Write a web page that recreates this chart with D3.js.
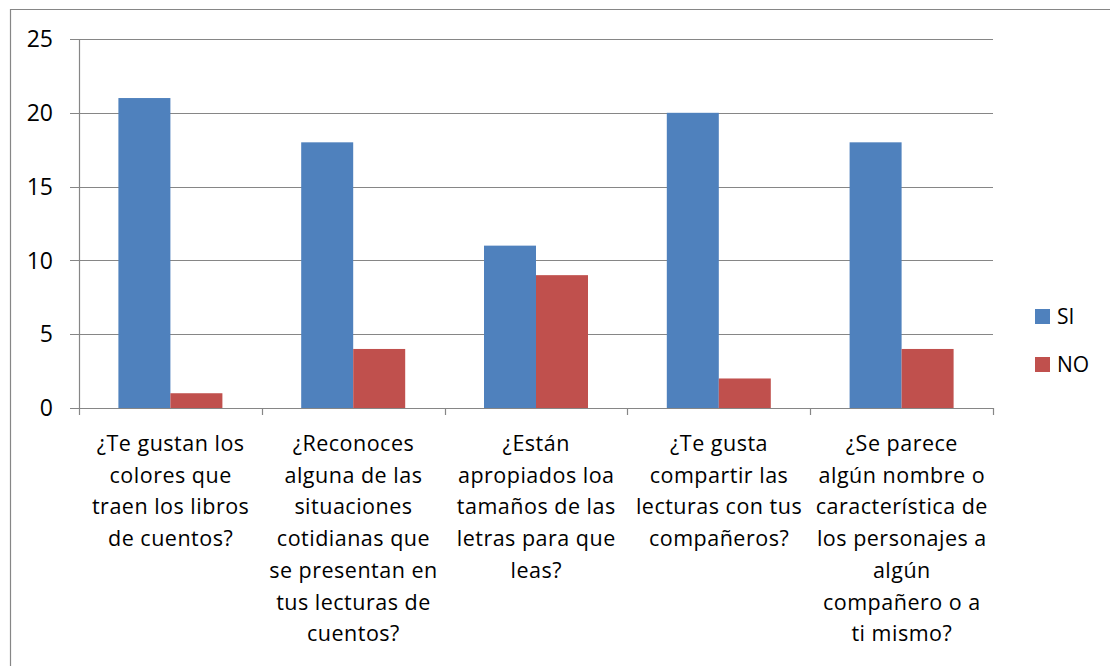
<!DOCTYPE html>
<html><head><meta charset="utf-8">
<script src="https://cdn.jsdelivr.net/npm/d3@7"></script>
<style>body{margin:0;background:#fff}svg text{font-family:"Open Sans",sans-serif;fill:#000}</style>
</head><body><svg id="c" width="1110" height="666"></svg>
<script>
const categories = [
  ["¿Te gustan los","colores que","traen los libros","de cuentos?"],
  ["¿Reconoces","alguna de las","situaciones","cotidianas que","se presentan en","tus lecturas de","cuentos?"],
  ["¿Están","apropiados loa","tamaños de las","letras para que","leas?"],
  ["¿Te gusta","compartir las","lecturas con tus","compañeros?"],
  ["¿Se parece","algún nombre o","característica de","los personajes a","algún","compañero o a","ti mismo?"]
];
const seriesNames = ["SI","NO"];
const siValues = [21,18,11,20,18];
const noValues = [1,4,9,2,4];
const yTicks = [0,5,10,15,20,25];
const colors = ["#4F81BD","#C0504D"];

const svg = d3.select("#c");
svg.append("path").attr("d","M10.5,666V9.5H1110").attr("fill","none").attr("stroke","#868686").attr("stroke-width",1.2);

const L=79, R=993, T=39, B=408;
const x = d3.scaleBand().domain(d3.range(categories.length)).range([L,R]);
const xs = d3.scaleBand().domain(seriesNames).range([0,104]);
const y = d3.scaleLinear().domain([0,25]).range([B,T]);

svg.append("g").selectAll("line").data(yTicks).join("line")
  .attr("x1",70).attr("x2",R).attr("y1",d=>Math.round(y(d))+0.5).attr("y2",d=>Math.round(y(d))+0.5)
  .attr("stroke","#868686").attr("stroke-width",1.2);
svg.append("g").selectAll("text").data(yTicks).join("text")
  .attr("x",53).attr("y",d=>y(d)).attr("dy","0.36em").attr("text-anchor","end")
  .style("font-size","23px").text(d=>d);

const data = categories.map((c,i)=>[siValues[i],noValues[i]]);
const g = svg.append("g");
data.forEach((vals,i)=>{
  vals.forEach((v,j)=>{
    const x0 = x(i)+x.bandwidth()/2-52+xs(seriesNames[j]);
    g.append("rect").attr("x",x0).attr("width",xs.bandwidth())
      .attr("y",y(v)).attr("height",B-y(v)).attr("fill",colors[j]);
  });
});

svg.append("line").attr("x1",L+0.5).attr("x2",L+0.5).attr("y1",T).attr("y2",B).attr("stroke","#868686").attr("stroke-width",1.2);
svg.append("line").attr("x1",70).attr("x2",R).attr("y1",B+0.5).attr("y2",B+0.5).attr("stroke","#868686").attr("stroke-width",1.2);
const xt = d3.range(categories.length+1).map(i=>L+i*x.step());
svg.append("g").selectAll("line").data(xt).join("line")
  .attr("x1",d=>Math.round(d)+0.5).attr("x2",d=>Math.round(d)+0.5).attr("y1",B).attr("y2",B+7)
  .attr("stroke","#868686").attr("stroke-width",1.2);

categories.forEach((lines,i)=>{
  const t = svg.append("text").attr("text-anchor","middle").style("font-size","21.5px").style("letter-spacing","0.5px");
  lines.forEach((ln,k)=>{
    t.append("tspan").attr("x",x(i)+x.bandwidth()/2+0.25).attr("y",451+k*31.7).text(ln);
  });
});

seriesNames.forEach((s,j)=>{
  const yy = 309 + j*48;
  svg.append("rect").attr("x",1035).attr("y",yy).attr("width",15).attr("height",15).attr("fill",colors[j]);
  svg.append("text").attr("x",1057).attr("y",yy+7.5).attr("dy","0.36em").style("font-size","21px").text(s);
});
</script></body></html>
